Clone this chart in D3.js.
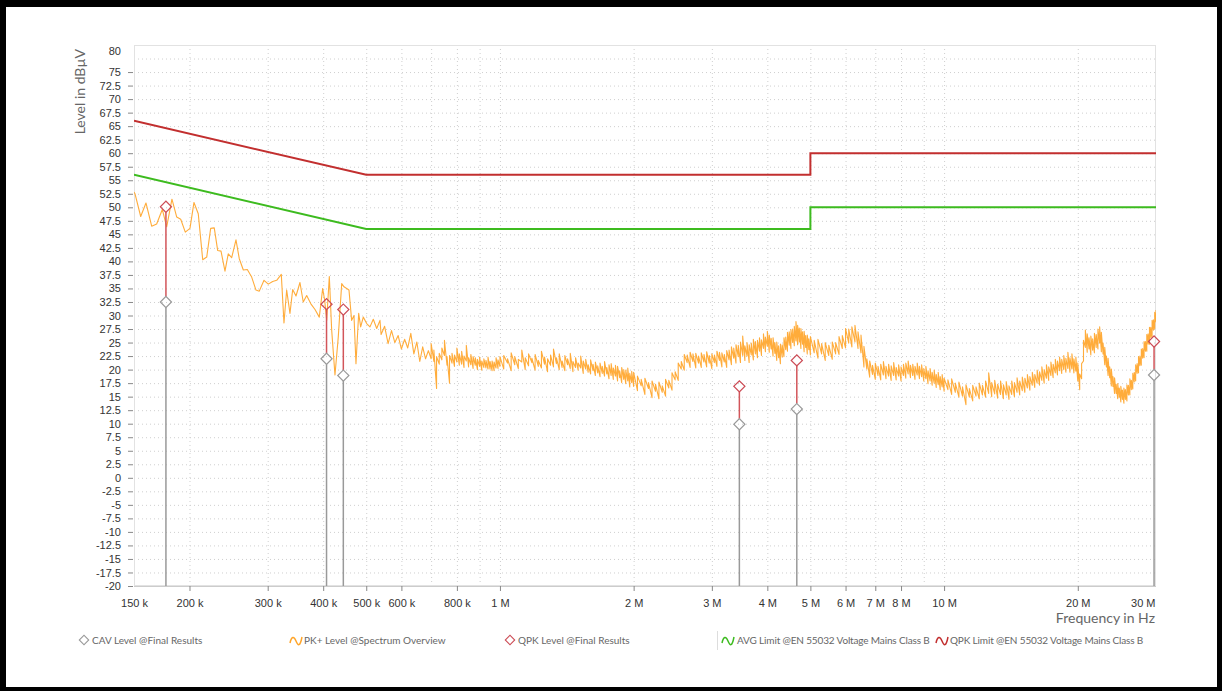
<!DOCTYPE html>
<html>
<head>
<meta charset="utf-8">
<script src="https://cdn.jsdelivr.net/npm/d3@7/dist/d3.min.js"></script>
<style>
html, body { margin: 0; padding: 0; background: #000; }
svg { display: block; }
.grid line { stroke: #cfcfcf; stroke-dasharray: 1,3; }
.grid path { display: none; }
.axis path { display: none; }
.axis line { stroke: #888; }
.axis text { font-family: "Liberation Sans", Arial, sans-serif; font-size: 11px; fill: #333; }
.title { font-family: Lato, sans-serif; font-size: 14px; fill: #666; }
.legend text { font-family: Lato, sans-serif; font-size: 10px; fill: #666; }
.legend text.long { letter-spacing: -0.15px; }
</style>
</head>
<body>
<svg id="chart" width="1222" height="691"></svg>
<script>
var WIDTH = 1222;
var HEIGHT = 691;
var LEFT = 134, RIGHT = 1156, TOP = 45, BOTTOM = 586;

// axis ticks
var yTicks = [-20, -17.5, -15, -12.5, -10, -7.5, -5, -2.5, 0, 2.5, 5, 7.5, 10, 12.5, 15, 17.5, 20, 22.5, 25, 27.5,
	30, 32.5, 35, 37.5, 40, 42.5, 45, 47.5, 50, 52.5, 55, 57.5, 60, 62.5, 65, 67.5, 70, 72.5, 75, 80];
var yGridTicks = [-17.5, -15, -12.5, -10, -7.5, -5, -2.5, 0, 2.5, 5, 7.5, 10, 12.5, 15, 17.5, 20, 22.5, 25, 27.5,
	30, 32.5, 35, 37.5, 40, 42.5, 45, 47.5, 50, 52.5, 55, 57.5, 60, 62.5, 65, 67.5, 70, 72.5, 75, 77.5];
var xTicks = [150e3, 200e3, 300e3, 400e3, 500e3, 600e3, 800e3, 1e6, 2e6, 3e6, 4e6, 5e6, 6e6, 7e6, 8e6, 10e6, 20e6, 30e6];
var xLabels = ["150 k", "200 k", "300 k", "400 k", "500 k", "600 k", "800 k", "1 M", "2 M", "3 M", "4 M", "5 M",
	"6 M", "7 M", "8 M", "10 M", "20 M", "30 M"];
var xGridTicks = [200e3, 300e3, 400e3, 500e3, 600e3, 700e3, 800e3, 900e3, 1e6, 2e6, 3e6, 4e6, 5e6, 6e6, 7e6, 8e6, 9e6, 10e6, 20e6];

// limits EN 55032 class B, [Hz, dBuV]
var qpkLimit = [[150e3, 66], [500e3, 56], [5e6, 56], [5e6, 60], [30e6, 60]];
var avgLimit = [[150e3, 56], [500e3, 46], [5e6, 46], [5e6, 50], [30e6, 50]];

// final results
var finalFreq = [177e3, 407e3, 444e3, 3.46e6, 4.66e6, 29.7e6];
var qpkLevel = [50.1, 32.1, 31.1, 16.9, 21.7, 25.2];
var cavLevel = [32.5, 22.0, 18.9, 9.9, 12.7, 19.0];

// PK+ overview trace: [kHz, dBuV] or [kHz, low, high] where the sweep bin spans a range
var pkLow = [[150,52.8],[150.8,52.5],[155.3,48.3],[159.6,50.8],[164.4,46.5],[168.7,46.9],[173.7,49.6],[177.7,46.4],
	[182.6,51.5],[187.2,48.2],[191.1,47.8],[195.7,45.4],[200.5,46.1],[204.7,50.9],[209.3,48.8],[214.2,40.3],[218.7,40.8],
	[223.2,46.1],[227.4,46.2],[231.5,42.0],[235.5,41.9],[240.4,38.2],[244.5,41.4],[248.9,40.7],[254.5,44.0],[258.9,40.5],
	[264.4,38.4],[269.9,38.5],[276.1,37.1],[282.3,34.7],[287.2,34.5],[294.3,36.5],[300.9,35.8],[307.8,36.3],[314.3,36.5],
	[321.9,37.6],[326.4,28.6],[331.0,34.7],[336.7,30.4],[341.5,34.8],[347.4,33.6],[354.6,36.1],[360.7,32.5],[367.2,33.7],
	[374.9,32.2],[383.4,31.1],[392.0,29.7],[398.9,35.0],[403.1,32.8],[407.3,29.1],[412.9,37.2],[418.0,27.3],[425.2,19.0],
	[432.5,26.0],[440.3,35.9],[445.6,35.3],[451.8,35.0],[457.2,34.7],[463.6,29.1],[469.2,30.0],[474.1,21.1],[480.8,30.4],
	[485.8,27.9],[492.4,29.7],[501.2,28.5],[509.8,27.9],[518.6,29.3],[527.9,27.6],[536.9,29.1],
	[540,26.5],[550,28.0],[560,24.8],[570,27.2],[580,25.0],[590,26.3],[600,23.8],[610,25.6],[620,24.0],[630,26.7],
	[640,22.9],[650,25.1],[660,21.5],[670,24.2],[680,22.0],[690,23.5]];
var pkMid = [[700,22.0,24.8],[710,21.5,23.6],[720,16.5,22.4],[730,21.0,23.0],[740,21.8,24.0],[750,22.6,25.4],[760,20.8,22.4],
	[770,17.5,22.6],[780,21.2,23.0],[790,20.6,22.7],[800,21.4,24.0],[810,20.8,22.9],[820,21.0,23.4],[830,20.4,22.5],
	[840,21.6,24.5],[850,20.5,22.2],[860,20.9,22.8],[870,20.2,22.4],[880,20.8,22.2],[890,20.0,21.9],[900,20.6,22.3],
	[910,19.9,21.6],[920,20.4,22.0],[930,20.3,21.7],[940,20.1,22.3],[950,20.1,21.5],[960,19.8,21.6],[970,19.8,21.4],
	[980,20.3,22.2],[990,20.2,21.8],[1000,20.6,22.4],
	[1020,20.1,22.6],[1040,21.2,22.0],[1060,19.8,23.1],[1080,20.9,22.4],[1100,20.2,21.9],[1120,21.4,23.6],[1140,20.0,22.2],
	[1160,20.7,22.9],[1180,21.3,22.1],[1200,19.9,22.8],[1220,20.6,21.7],[1240,20.3,23.4],[1260,21.0,22.3],[1280,19.6,22.0],
	[1300,20.8,22.7],[1320,20.5,23.8],[1340,21.1,22.2],[1360,20.0,22.9],[1380,20.4,21.6],[1400,19.8,22.6],[1420,20.9,22.0],
	[1440,20.2,23.0],[1460,19.6,21.5],[1480,20.4,22.2],[1500,19.9,21.2],[1520,20.3,22.5],[1540,19.3,21.6],[1560,20.1,21.9],
	[1580,19.5,20.9],[1600,19.2,21.8],[1620,19.8,21.0],[1640,18.9,21.4],[1660,19.4,20.7],[1680,18.7,21.2],[1700,19.3,20.6],
	[1720,18.8,21.5],[1740,19.2,20.4],[1760,18.3,20.9],[1780,18.9,21.1],[1800,18.2,20.3],[1820,18.8,20.8],[1840,17.9,20.6],
	[1860,18.5,19.8],[1880,17.6,20.4],[1900,18.2,20.0],[1920,17.4,19.9],[1940,17.9,20.3],[1960,16.8,19.3],[1980,17.6,19.7],
	[2000,16.9,19.5]];
var pkHigh = [[2040,16.1,18.8],[2080,17.0,18.2],[2120,15.4,18.4],[2160,16.5,17.6],[2200,14.8,17.9],[2240,16.0,17.3],
	[2280,14.6,17.7],[2320,15.8,17.0],[2360,15.1,18.2],[2400,16.6,18.0],[2440,16.2,19.4],[2480,18.1,19.6],[2520,18.0,21.2],
	[2560,20.1,21.5],[2600,19.9,22.8],[2640,21.3,22.7],[2680,20.4,23.2],[2720,21.5,22.9],[2760,20.3,23.0],[2800,21.2,22.5],
	[2840,20.4,23.1],[2880,21.4,22.8],[2920,20.5,23.3],[2960,21.2,22.6],[3000,20.2,22.9],[3040,21.3,22.7],[3080,20.6,23.4],
	[3120,21.7,23.2],[3160,20.5,23.1],[3200,21.4,22.8],[3240,20.4,23.5],[3280,21.8,23.6],[3320,20.9,24.2],[3360,22.1,24.0],
	[3400,21.2,24.6],[3440,22.4,24.5],[3480,21.3,25.1],[3520,22.6,26.2],[3560,21.7,24.4],[3600,22.5,25.0],[3640,21.3,24.6],
	[3680,22.7,24.9],[3720,21.8,25.6],[3760,22.9,25.2],[3800,22.2,25.4],[3840,23.4,25.9],[3880,22.6,25.5],[3920,23.9,26.6],
	[3960,23.3,26.0],[4000,24.3,27.1],[4040,23.2,26.4],[4080,23.8,25.8],[4120,22.5,25.9],[4160,23.0,25.0],[4200,21.7,25.1],
	[4240,22.2,24.4],[4280,21.1,24.7],[4320,22.3,24.6],[4360,22.4,25.9],[4400,23.7,26.0],[4440,23.4,26.9],[4480,24.5,27.0],
	[4520,23.9,27.4],[4560,25.0,27.5],[4600,24.4,28.0],[4640,25.3,28.9],[4680,24.6,28.2],[4720,25.1,27.7],[4760,23.9,27.6],
	[4800,24.7,27.0],[4840,23.3,27.1],[4880,24.1,26.3],[4920,22.9,26.4],[4960,23.7,25.7],[5000,22.7,26.1],
	[5100,23.1,25.4],[5200,22.1,25.6],[5300,22.9,24.8],[5400,21.7,25.0],[5500,22.6,24.5],[5600,21.9,25.1],[5700,22.9,25.0],
	[5800,22.8,26.1],[5900,23.9,26.3],[6000,24.0,27.6],[6100,24.9,27.5],[6200,24.2,27.9],[6300,25.1,28.2],[6400,23.9,27.0],
	[6500,23.1,26.4],[6600,20.5,24.3],[6700,20.1,22.0],[6800,18.6,21.6],[6900,19.1,20.8],[7000,18.2,21.2],[7100,18.9,20.6],
	[7200,18.1,21.0],[7300,19.0,21.5],[7400,18.3,20.6],[7500,18.8,21.0],[7600,18.0,20.7],[7700,18.9,21.3],[7800,18.1,20.4],
	[7900,18.8,20.9],[8000,17.9,20.5],[8100,18.9,21.0],[8200,18.4,21.2],[8300,19.2,21.6],[8400,18.5,20.8],[8500,18.9,21.0],
	[8600,18.2,20.6],[8700,19.0,21.2],[8800,18.3,20.6],[8900,18.7,20.9],[9000,17.9,20.2],[9100,18.3,20.6],[9200,17.4,19.8],
	[9300,17.9,20.2],[9400,17.1,19.5],[9500,17.5,19.9],[9600,16.7,19.1],[9700,17.2,19.5],[9800,16.3,18.7],[9900,16.8,19.1],
	[10000,16.0,18.4]];
var pkTop = [[10200,16.3,18.1],[10400,15.4,18.3],[10600,15.8,17.5],[10800,14.9,17.7],[11000,15.1,16.8],[11200,13.5,17.2],
	[11400,14.9,16.5],[11600,14.2,17.1],[11800,15.1,16.8],[12000,14.6,17.5],[12200,15.3,17.1],[12400,14.9,17.9],[12600,15.6,19.4],
	[12800,15.0,17.6],[13000,15.5,18.0],[13200,14.7,17.3],[13400,15.4,17.9],[13600,14.6,17.2],[13800,15.3,17.8],[14000,14.5,17.0],
	[14200,15.4,17.9],[14400,15.0,17.6],[14600,15.8,18.5],[14800,15.3,17.9],[15000,16.1,18.6],[15200,15.8,18.4],[15400,16.6,19.1],
	[15600,16.2,18.7],[15800,17.1,19.5],[16000,16.7,19.1],[16200,17.5,19.9],[16400,17.1,19.6],[16600,18.0,20.5],[16800,17.5,20.0],
	[17000,18.4,20.9],[17200,18.0,20.5],[17400,18.9,21.4],[17600,18.5,21.0],[17800,19.4,21.9],[18000,19.0,21.6],[18200,19.8,22.3],
	[18400,19.3,21.9],[18600,20.0,22.6],[18800,19.5,22.1],[19000,20.2,23.2],[19200,19.5,22.2],[19400,20.1,22.9],[19600,19.4,22.0],
	[19800,19.7,22.3],[20000,17.9,21.2],[20200,16.3,19.2],[20400,18.3,21.1],[20600,21.6,25.4],[20800,24.1,27.3],[21000,23.2,26.6],
	[21200,23.8,25.9],[21400,22.7,26.2],[21600,23.6,25.7],[21800,23.1,26.7],[22000,24.1,26.5],[22200,23.8,27.5],[22400,24.9,27.9],
	[22600,23.3,26.9],[22800,22.9,24.9],[23000,20.9,24.1],[23200,20.5,22.5],[23400,18.9,22.1],[23600,18.5,20.5],[23800,17.0,20.1],
	[24000,16.9,18.7],[24200,15.6,18.5],[24400,15.6,17.3],[24600,14.6,17.4],[24800,14.9,16.6],[25000,14.0,16.9],[25200,14.5,16.2],
	[25400,13.8,16.6],[25600,14.5,16.3],[25800,14.2,17.2],[26000,15.3,17.1],[26200,15.3,18.3],[26400,16.3,18.0],[26600,16.4,19.3],
	[26800,17.7,19.5],[27000,17.9,20.9],[27200,19.3,21.1],[27400,19.4,22.4],[27600,20.7,22.5],[27800,20.8,23.8],[28000,22.1,23.9],
	[28200,22.2,25.2],[28400,23.4,25.2],[28600,23.4,26.5],[28800,24.7,26.6],[29000,24.7,27.8],[29200,25.9,27.8],[29400,26.0,29.1],
	[29600,27.3,29.2],[29800,27.5,30.6],[30000,28.8,31.0]];

var legendNames = ["CAV Level @Final Results", "PK+ Level @Spectrum Overview", "QPK Level @Final Results",
	"AVG Limit @EN 55032 Voltage Mains Class B", "QPK Limit @EN 55032 Voltage Mains Class B"];

var x = d3.scaleLog()
		.domain([150e3, 30e6])
		.range([LEFT, RIGHT]);

var y = d3.scaleLinear()
		.domain([-20, 80])
		.range([BOTTOM, TOP]);

var line = d3.line()
		.x(function(d){return x(d[0]);})
		.y(function(d){return y(d[1]);});

var svg = d3.select("#chart");

// black frame around white sheet
svg.append("rect").attr("width", WIDTH).attr("height", HEIGHT).attr("fill", "#000");
svg.append("rect").attr("x", 6).attr("y", 7).attr("width", 1211).attr("height", 680).attr("fill", "#fff");

svg.append("defs").append("clipPath").attr("id", "plot")
	.append("rect").attr("x", LEFT).attr("y", TOP).attr("width", RIGHT - LEFT).attr("height", BOTTOM - TOP);

/**
 * dotted gridlines
 */
svg.append("g")
	.attr("class", "grid")
	.attr("transform", "translate(" + LEFT + ",0)")
	.call(d3.axisLeft(y)
		.tickValues(yGridTicks)
		.tickSize(-(RIGHT - LEFT))
		.tickFormat(""));

svg.append("g")
	.attr("class", "grid")
	.attr("transform", "translate(0," + BOTTOM + ")")
	.call(d3.axisBottom(x)
		.tickValues(xGridTicks)
		.tickSize(-(BOTTOM - TOP))
		.tickFormat(""));

svg.append("rect")
	.attr("x", LEFT + 0.5).attr("y", TOP + 0.5)
	.attr("width", RIGHT - LEFT - 1).attr("height", BOTTOM - TOP - 1)
	.attr("fill", "none")
	.attr("stroke", "#e2e2e2");

svg.append("line")
	.attr("x1", LEFT).attr("x2", RIGHT)
	.attr("y1", BOTTOM + 0.5).attr("y2", BOTTOM + 0.5)
	.attr("stroke", "#ccc");

/**
 * axes
 */
var yAxis = svg.append("g")
	.attr("class", "axis")
	.attr("transform", "translate(" + (LEFT - 1) + ",0)")
	.call(d3.axisLeft(y)
		.tickValues(yTicks)
		.tickSize(5)
		.tickPadding(7)
		.tickFormat(function(d){return String(d);}));

yAxis.selectAll(".tick")
	.filter(function(d){return d === 80;})
	.each(function(){
		d3.select(this).select("line").remove();
		d3.select(this).select("text").attr("dy", "0.85em");
	});

var xAxis = svg.append("g")
	.attr("class", "axis")
	.attr("transform", "translate(0," + BOTTOM + ")")
	.call(d3.axisBottom(x)
		.tickValues(xTicks)
		.tickSize(5)
		.tickPadding(8)
		.tickFormat(function(d, i){return xLabels[i];}));

xAxis.selectAll(".tick")
	.filter(function(d){return d === 150e3 || d === 30e6;})
	.select("line").remove();

xAxis.selectAll(".tick")
	.filter(function(d){return d === 30e6;})
	.select("text")
	.attr("text-anchor", "end")
	.attr("x", -1);

svg.selectAll(".axis").attr("font-family", null).attr("font-size", null);

svg.append("text")
	.attr("class", "title")
	.attr("transform", "translate(85," + (TOP + 4) + ") rotate(-90)")
	.attr("text-anchor", "end")
	.text("Level in dB\u00b5V");

svg.append("text")
	.attr("class", "title")
	.attr("x", RIGHT - 1)
	.attr("y", 623)
	.attr("text-anchor", "end")
	.text("Frequency in Hz");

/**
 * limit lines and trace
 */
var plot = svg.append("g").attr("clip-path", "url(#plot)");

plot.append("path")
	.datum(avgLimit)
	.attr("d", line)
	.attr("fill", "none")
	.attr("stroke", "#3dbb1f")
	.attr("stroke-width", 2);

plot.append("path")
	.datum(qpkLimit)
	.attr("d", line)
	.attr("fill", "none")
	.attr("stroke", "#c22f2f")
	.attr("stroke-width", 2);

// every bin gives one vertex, or two (low then high) when it spans a range
var pkTrace = [];
pkLow.concat(pkMid, pkHigh, pkTop).forEach(function(d){
	for (var k = 1; k < d.length; k++)
		pkTrace.push([d[0] * 1e3, d[k]]);
});

plot.append("path")
	.datum(pkTrace)
	.attr("d", line)
	.attr("fill", "none")
	.attr("stroke", "#ffa52a")
	.attr("stroke-opacity", 0.92)
	.attr("stroke-width", 1.1)
	.attr("stroke-linejoin", "round");

/**
 * final result stems and diamonds
 */
var diamond = d3.symbol().type(d3.symbolSquare).size(62);

for (var i = 0; i < finalFreq.length; i++)
{
	var fx = x(finalFreq[i]);
	svg.append("line")
		.attr("x1", fx).attr("x2", fx)
		.attr("y1", BOTTOM).attr("y2", y(cavLevel[i]) + 5.5)
		.attr("stroke", "#999")
		.attr("stroke-width", 1.5);

	svg.append("line")
		.attr("x1", fx).attr("x2", fx)
		.attr("y1", y(cavLevel[i]) - 5.5).attr("y2", y(qpkLevel[i]) + 5.5)
		.attr("stroke", "#d2555a")
		.attr("stroke-width", 1.5);

	svg.append("path")
		.attr("d", diamond)
		.attr("transform", "translate(" + fx + "," + y(cavLevel[i]) + ") rotate(45)")
		.attr("fill", "none")
		.attr("stroke", "#999")
		.attr("stroke-width", 1.2);

	svg.append("path")
		.attr("d", diamond)
		.attr("transform", "translate(" + fx + "," + y(qpkLevel[i]) + ") rotate(45)")
		.attr("fill", "none")
		.attr("stroke", "#cc4b55")
		.attr("stroke-width", 1.2);
}

/**
 * legend
 */
var legend = svg.append("g").attr("class", "legend");
var LY = 640;
var wave = "M0,4 C1.5,-3 4,-3 6,2 S10,8 12,-2";

function legendDiamond(cx, color)
{
	legend.append("path")
		.attr("d", d3.symbol().type(d3.symbolSquare).size(44))
		.attr("transform", "translate(" + cx + "," + LY + ") rotate(45)")
		.attr("fill", "none")
		.attr("stroke", color)
		.attr("stroke-width", 1.1);
}

function legendWave(x0, color)
{
	legend.append("path")
		.attr("d", wave)
		.attr("transform", "translate(" + x0 + "," + (LY - 1) + ")")
		.attr("fill", "none")
		.attr("stroke", color)
		.attr("stroke-width", 1.5);
}

legendDiamond(84, "#999");
legendWave(290, "#ffa52a");
legendDiamond(510, "#cc4b55");
legendWave(722, "#3dbb1f");
legendWave(936, "#c22f2f");

legend.append("line")
	.attr("x1", 717.5).attr("x2", 717.5)
	.attr("y1", 631).attr("y2", 650)
	.attr("stroke", "#ddd");

var legendX = [92, 304, 518, 737, 950];
legend.selectAll("text")
	.data(legendNames)
	.enter().append("text")
	.attr("class", function(d, i){return i > 2 ? "long" : null;})
	.attr("x", function(d, i){return legendX[i];})
	.attr("y", LY)
	.attr("dy", "0.35em")
	.text(function(d){return d;});
</script>
</body>
</html>
